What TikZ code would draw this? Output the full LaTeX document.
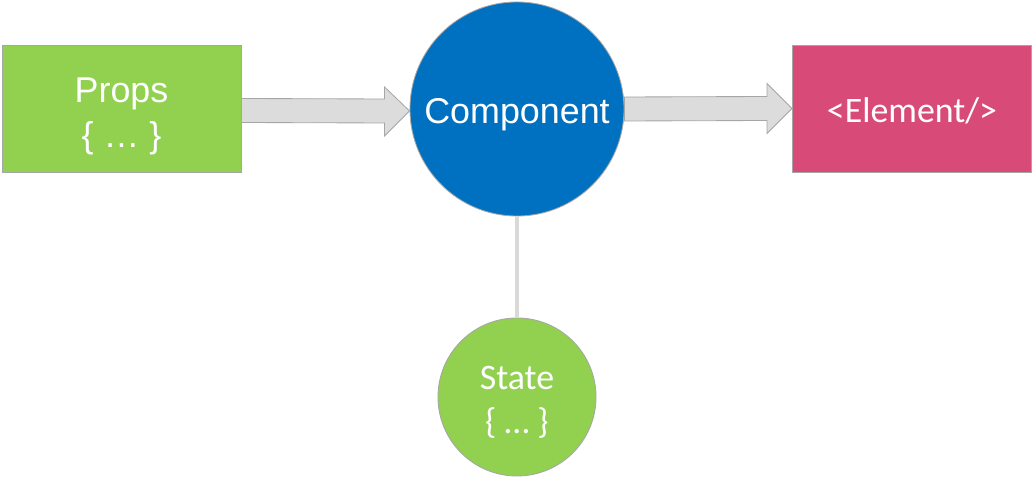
\documentclass[tikz,border=0pt]{standalone}
\usepackage{fontspec}
\setmainfont{Liberation Sans}
\newfontfamily\calibrifont{Carlito}
\usetikzlibrary{calc,positioning}

\definecolor{propsgreen}{HTML}{92D050}
\definecolor{compblue}{HTML}{0070C0}
\definecolor{elempink}{HTML}{D84A78}
\definecolor{edgegray}{HTML}{A6A6A6}
\definecolor{arrowgray}{HTML}{DCDCDC}
\definecolor{linkgray}{HTML}{D9D9D9}

\tikzset{
  box/.style={rectangle, draw=edgegray, line width=0.6pt,
    minimum width=5.975cm, minimum height=3.175cm, inner sep=0pt},
  bubble/.style={circle, draw=edgegray, line width=0.6pt, inner sep=0pt},
  bigtext/.style={text=white, align=center, font=\fontsize{25.5}{32}\selectfont},
  smalltext/.style={text=white, align=center, font=\calibrifont\fontsize{25.5}{31}\selectfont},
  blockarrow/.style={fill=arrowgray, draw=edgegray, line width=0.6pt, line join=miter}
}

\begin{document}
\begin{tikzpicture}[x=0.025cm, y=-0.025cm]
  \useasboundingbox (0,0) rectangle (1033,477);

  % boxes and circles
  \node[box, fill=propsgreen,
    label={[name=propstext, bigtext, yshift=-0.19cm]center:Props\\\{ … \}}] (props) at (121.5,108.5) {};
  \node[bubble, fill=compblue, minimum size=5.35cm,
    label={[name=comptext, bigtext, yshift=-0.15cm]center:Component}] (comp) at (517,109) {};
  \node[box, fill=elempink,
    label={[name=elemtext, smalltext, yshift=-0.07cm]center:<Element/>}] (elem) at (912,108.5) {};
  \node[bubble, fill=propsgreen, minimum size=3.95cm,
    label={[name=statetext, smalltext, yshift=-0.13cm]center:State\\\{ … \}}] (state) at (517,397) {};

  % block arrows
  \draw[blockarrow] ($(props.east)+(0,-10)$) -- ($(comp.west)+(-25,-10)$) -- ($(comp.west)+(-25,-22)$)
    -- ($(comp.west)+(0,2)$) -- ($(comp.west)+(-25,27)$) -- ($(comp.west)+(-25,14)$) -- ($(props.east)+(0,14)$) -- cycle;
  \draw[blockarrow] ($(comp.east)+(0,-12)$) -- ($(elem.west)+(-25,-12)$) -- ($(elem.west)+(-25,-25)$)
    -- (elem.west) -- ($(elem.west)+(-25,25)$) -- ($(elem.west)+(-25,12)$) -- ($(comp.east)+(0,12)$) -- cycle;

  % link to state
  \draw[linkgray, line width=2.2pt] (comp.south) -- (state.north);
\end{tikzpicture}
\end{document}
